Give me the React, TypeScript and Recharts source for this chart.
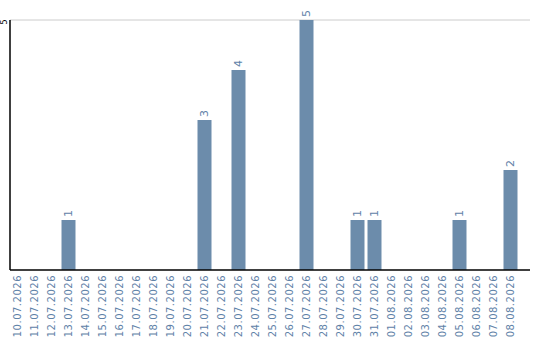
import React from 'react'
import { BarChart, Bar, XAxis, YAxis, CartesianGrid, LabelList } from 'recharts'

const dates = [
  '10.07.2026', '11.07.2026', '12.07.2026', '13.07.2026', '14.07.2026',
  '15.07.2026', '16.07.2026', '17.07.2026', '18.07.2026', '19.07.2026',
  '20.07.2026', '21.07.2026', '22.07.2026', '23.07.2026', '24.07.2026',
  '25.07.2026', '26.07.2026', '27.07.2026', '28.07.2026', '29.07.2026',
  '30.07.2026', '31.07.2026', '01.08.2026', '02.08.2026', '03.08.2026',
  '04.08.2026', '05.08.2026', '06.08.2026', '07.08.2026', '08.08.2026',
]
const counts = [
  0, 0, 0, 1, 0, 0, 0, 0, 0, 0,
  0, 3, 0, 4, 0, 0, 0, 5, 0, 0,
  1, 1, 0, 0, 0, 0, 1, 0, 0, 2,
]
const yTicks = [5]

const barColour = '#6c8cab'
const textColour = '#5f82a8'
const font = 'DejaVu Sans, sans-serif'

const rows = dates.map((date, i) => ({ date, count: counts[i] }))

// axis line sits at y = 270, labels hang just below it
function DateTick({ x, payload }: any) {
  const ty = 275
  return (
    <text
      x={x}
      y={ty}
      transform={`rotate(-90, ${x}, ${ty})`}
      textAnchor="end"
      dominantBaseline="central"
      fill={textColour}
      fontSize={10}
      letterSpacing={0.5}
      fontFamily={font}
    >
      {payload.value}
    </text>
  )
}

function CountTick({ y, payload }: any) {
  const tx = 4
  return (
    <text
      x={tx}
      y={y + 2}
      transform={`rotate(-90, ${tx}, ${y + 2})`}
      textAnchor="middle"
      dominantBaseline="central"
      fill="#000"
      fontSize={8}
      fontFamily={font}
    >
      {payload.value}
    </text>
  )
}

function ValueLabel({ x, y, width, value }: any) {
  if (!value) return null
  const cx = x + width / 2
  const cy = y - 3
  return (
    <text
      x={cx}
      y={cy}
      transform={`rotate(-90, ${cx}, ${cy})`}
      textAnchor="start"
      dominantBaseline="central"
      fill={textColour}
      fontSize={11}
      fontFamily={font}
    >
      {value}
    </text>
  )
}

export default function App() {
  return (
    <div style={{ position: 'absolute', left: 0, top: 0, background: '#fff' }}>
      <BarChart
        width={540}
        height={340}
        data={rows}
        margin={{ top: 20, right: 10, bottom: 0, left: 0 }}
        barCategoryGap={3}
      >
        <CartesianGrid
          horizontal
          vertical={false}
          stroke="#cccccc"
          horizontalValues={yTicks}
        />
        <XAxis
          dataKey="date"
          interval={0}
          height={70}
          padding={{ left: -1.5, right: 11.5 }}
          axisLine={{ stroke: '#000', strokeWidth: 1.5 }}
          tickLine={false}
          tick={<DateTick />}
        />
        <YAxis
          width={10}
          domain={[0, 5]}
          ticks={yTicks}
          axisLine={{ stroke: '#000', strokeWidth: 1.5 }}
          tickLine={false}
          tick={<CountTick />}
        />
        <Bar dataKey="count" fill={barColour} barSize={14} isAnimationActive={false}>
          <LabelList dataKey="count" content={<ValueLabel />} />
        </Bar>
      </BarChart>
    </div>
  )
}
